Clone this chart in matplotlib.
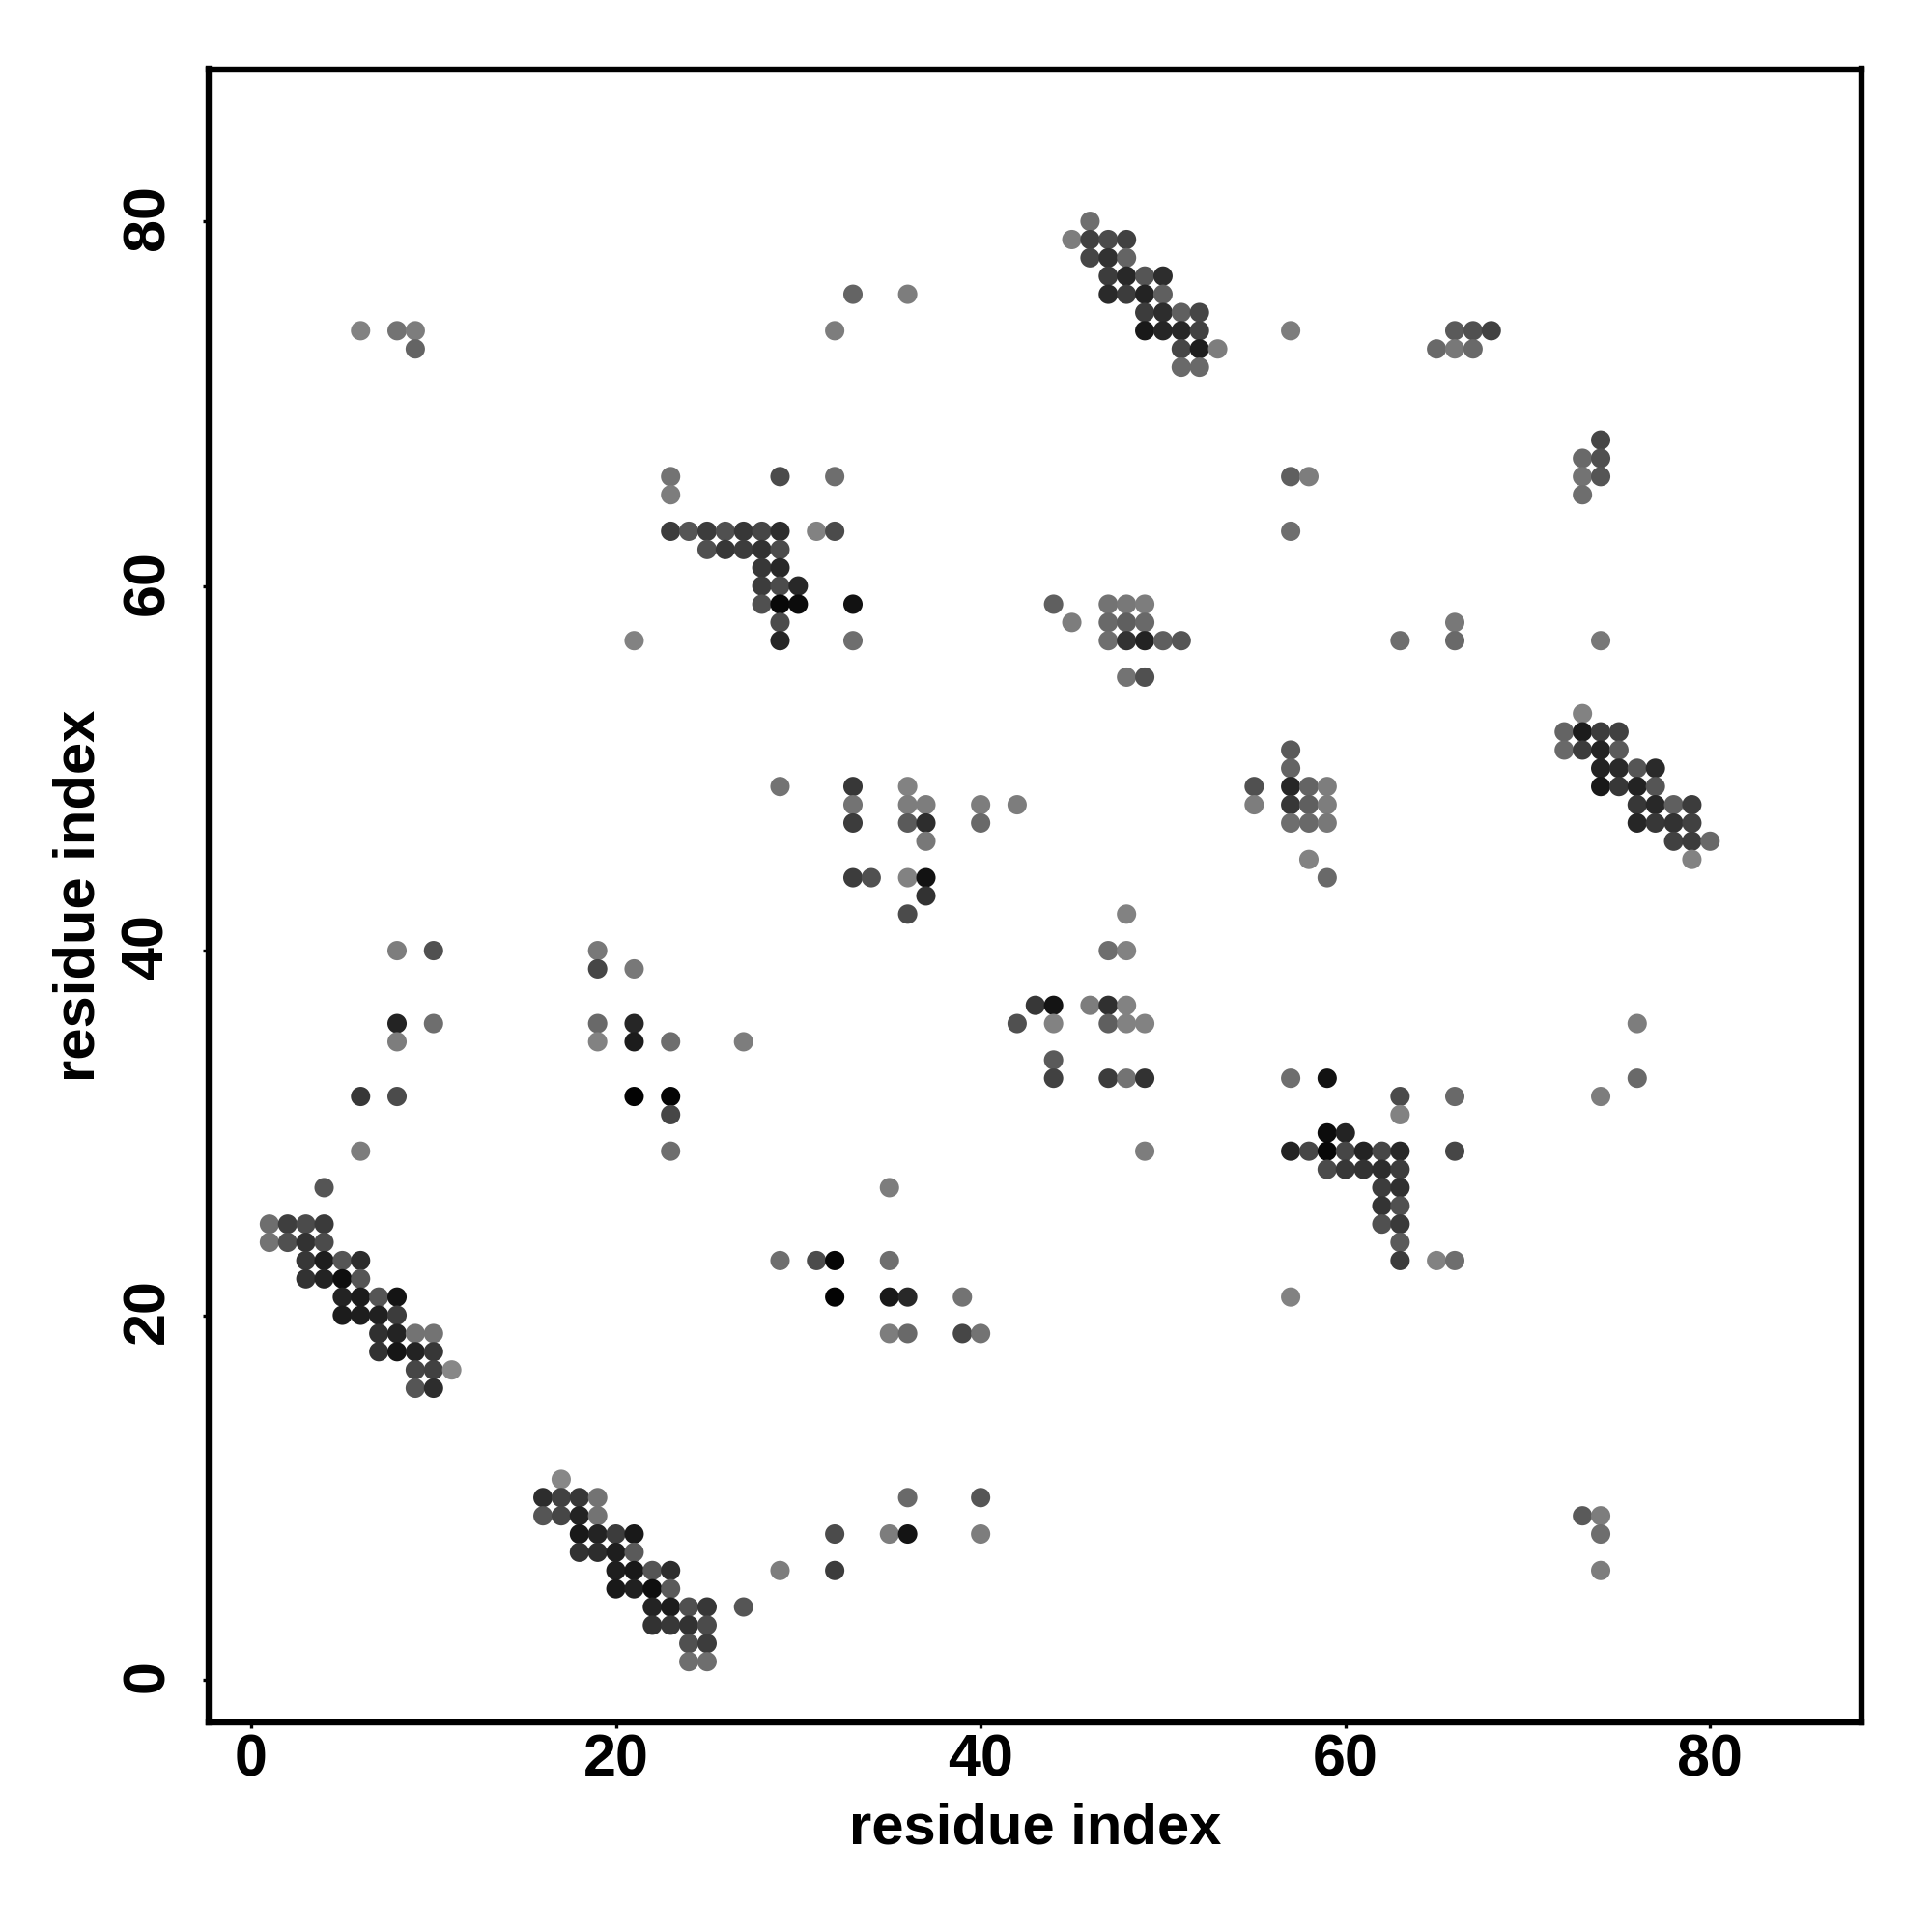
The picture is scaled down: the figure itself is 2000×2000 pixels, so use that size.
import matplotlib
matplotlib.use('Agg')
import matplotlib.pyplot as plt
from matplotlib.transforms import ScaledTranslation
import numpy as np

# contact map, one line per row (top row first): residue i, residue j, grey level 0-255
res_i = [
    46,
    45, 46, 47, 48,
    46, 47, 48,
    47, 48, 49, 50,
    33, 36, 47, 48, 49, 50,
    49, 50, 51, 52,
    6, 8, 9, 32, 49, 50, 51, 52, 57, 66, 67, 68,
    9, 51, 52, 53, 65, 66, 67,
    51, 52,
    74,
    73, 74,
    23, 29, 32, 57, 58, 73, 74,
    23, 73,
    23, 24, 25, 26, 27, 28, 29, 31, 32, 57,
    25, 26, 27, 28, 29,
    28, 29,
    28, 29, 30,
    28, 29, 30, 33, 44, 47, 48, 49,
    29, 45, 47, 48, 49, 66,
    21, 29, 33, 47, 48, 49, 50, 51, 63, 66, 74,
    48, 49,
    73,
    72, 73, 74, 75,
    57, 72, 73, 74, 75,
    57, 74, 75, 76, 77,
    29, 33, 36, 55, 57, 58, 59, 74, 75, 76, 77,
    33, 36, 37, 40, 42, 55, 57, 58, 59, 76, 77, 78, 79,
    33, 36, 37, 40, 57, 58, 59, 76, 77, 78, 79,
    37, 78, 79, 80,
    58, 79,
    33, 34, 36, 37, 59,
    37,
    36, 48,
    8, 10, 19, 47, 48,
    19, 21,
    43, 44, 46, 47, 48,
    8, 10, 19, 21, 42, 44, 47, 48, 49, 76,
    8, 19, 21, 23, 27,
    44,
    44, 47, 48, 49, 57, 59, 76,
    6, 8, 21, 23, 63, 66, 74,
    23, 63,
    59, 60,
    6, 23, 49, 57, 58, 59, 60, 61, 62, 63, 66,
    59, 60, 61, 62, 63,
    4, 35, 62, 63,
    62, 63,
    1, 2, 3, 4, 62, 63,
    1, 2, 3, 4, 63,
    3, 4, 5, 6, 29, 31, 32, 35, 63, 65, 66,
    3, 4, 5, 6,
    5, 6, 7, 8, 32, 35, 36, 39, 57,
    5, 6, 7, 8,
    7, 8, 9, 10, 35, 36, 39, 40,
    7, 8, 9, 10,
    9, 10, 11,
    9, 10,
    17,
    16, 17, 18, 19, 36, 40,
    16, 17, 18, 19, 73, 74,
    18, 19, 20, 21, 32, 35, 36, 40, 74,
    18, 19, 20, 21,
    20, 21, 22, 23, 29, 32, 74,
    20, 21, 22, 23,
    22, 23, 24, 25, 27,
    22, 23, 24, 25,
    24, 25,
    24, 25,
]
res_j = [
    80,
    79, 79, 79, 79,
    78, 78, 78,
    77, 77, 77, 77,
    76, 76, 76, 76, 76, 76,
    75, 75, 75, 75,
    74, 74, 74, 74, 74, 74, 74, 74, 74, 74, 74, 74,
    73, 73, 73, 73, 73, 73, 73,
    72, 72,
    68,
    67, 67,
    66, 66, 66, 66, 66, 66, 66,
    65, 65,
    63, 63, 63, 63, 63, 63, 63, 63, 63, 63,
    62, 62, 62, 62, 62,
    61, 61,
    60, 60, 60,
    59, 59, 59, 59, 59, 59, 59, 59,
    58, 58, 58, 58, 58, 58,
    57, 57, 57, 57, 57, 57, 57, 57, 57, 57, 57,
    55, 55,
    53,
    52, 52, 52, 52,
    51, 51, 51, 51, 51,
    50, 50, 50, 50, 50,
    49, 49, 49, 49, 49, 49, 49, 49, 49, 49, 49,
    48, 48, 48, 48, 48, 48, 48, 48, 48, 48, 48, 48, 48,
    47, 47, 47, 47, 47, 47, 47, 47, 47, 47, 47,
    46, 46, 46, 46,
    45, 45,
    44, 44, 44, 44, 44,
    43,
    42, 42,
    40, 40, 40, 40, 40,
    39, 39,
    37, 37, 37, 37, 37,
    36, 36, 36, 36, 36, 36, 36, 36, 36, 36,
    35, 35, 35, 35, 35,
    34,
    33, 33, 33, 33, 33, 33, 33,
    32, 32, 32, 32, 32, 32, 32,
    31, 31,
    30, 30,
    29, 29, 29, 29, 29, 29, 29, 29, 29, 29, 29,
    28, 28, 28, 28, 28,
    27, 27, 27, 27,
    26, 26,
    25, 25, 25, 25, 25, 25,
    24, 24, 24, 24, 24,
    23, 23, 23, 23, 23, 23, 23, 23, 23, 23, 23,
    22, 22, 22, 22,
    21, 21, 21, 21, 21, 21, 21, 21, 21,
    20, 20, 20, 20,
    19, 19, 19, 19, 19, 19, 19, 19,
    18, 18, 18, 18,
    17, 17, 17,
    16, 16,
    11,
    10, 10, 10, 10, 10, 10,
    9, 9, 9, 9, 9, 9,
    8, 8, 8, 8, 8, 8, 8, 8, 8,
    7, 7, 7, 7,
    6, 6, 6, 6, 6, 6, 6,
    5, 5, 5, 5,
    4, 4, 4, 4, 4,
    3, 3, 3, 3,
    2, 2,
    1, 1,
]
grey = [
    110,
    125, 65, 75, 65,
    70, 50, 100,
    60, 40, 85, 45,
    100, 125, 42, 60, 35, 95,
    60, 45, 95, 70,
    130, 115, 125, 125, 25, 38, 40, 65, 125, 90, 80, 65,
    100, 70, 30, 125, 105, 120, 105,
    105, 105,
    70,
    105, 80,
    115, 75, 110, 95, 125, 115, 85,
    125, 110,
    60, 85, 60, 80, 55, 70, 45, 130, 75, 110,
    80, 55, 60, 50, 75,
    55, 40,
    60, 75, 40,
    80, 8, 12, 18, 95, 115, 120, 125,
    75, 125, 105, 95, 105, 120,
    130, 38, 110, 110, 50, 35, 95, 85, 110, 105, 120,
    115, 80,
    130,
    100, 28, 60, 65,
    90, 105, 60, 35, 90,
    100, 35, 42, 85, 42,
    115, 55, 130, 80, 38, 100, 125, 25, 55, 35, 85,
    115, 125, 125, 125, 125, 125, 55, 95, 125, 55, 40, 95, 60,
    60, 90, 45, 105, 110, 105, 120, 38, 55, 50, 65,
    120, 65, 60, 105,
    130, 130,
    60, 80, 130, 18, 105,
    50,
    75, 130,
    125, 80, 120, 110, 130,
    70, 120,
    55, 20, 125, 48, 130,
    35, 110, 105, 38, 80, 130, 95, 130, 130, 125,
    125, 130, 28, 110, 125,
    90,
    65, 60, 115, 50, 110, 18, 105,
    55, 75, 3, 5, 75, 105, 125,
    70, 130,
    12, 35,
    125, 110, 125, 35, 70, 8, 70, 35, 70, 40, 70,
    75, 55, 50, 45, 60,
    85, 125, 60, 48,
    52, 80,
    110, 62, 75, 58, 80, 58,
    115, 80, 50, 75, 90,
    55, 30, 85, 45, 110, 75, 5, 110, 60, 130, 110,
    50, 35, 15, 85,
    35, 28, 85, 20, 3, 25, 40, 115, 130,
    28, 30, 32, 60,
    48, 35, 115, 115, 125, 105, 70, 115,
    50, 22, 35, 55,
    70, 65, 135,
    85, 45,
    135,
    45, 65, 55, 115, 105, 85,
    85, 70, 35, 115, 90, 125,
    25, 35, 60, 25, 75, 125, 20, 125, 110,
    50, 45, 30, 90,
    30, 25, 85, 45, 125, 60, 125,
    25, 32, 15, 90,
    35, 28, 80, 55, 85,
    50, 55, 50, 75,
    80, 60,
    110, 110,
]
tick_vals = [0, 20, 40, 60, 80]

plt.rcParams['font.family'] = ['Liberation Sans', 'DejaVu Sans']
plt.rcParams['font.weight'] = 'bold'

# pixel box of the frame in the 2000x2000 picture
L, R, T, B = 216, 1927, 71.5, 1783

fig = plt.figure(figsize = (10, 10), dpi = 200)
ax = fig.add_axes([L/2000, 1 - B/2000, (R - L)/2000, (B - T)/2000])

colors = np.array(grey)[:, None].repeat(3, axis = 1)/255.
ax.scatter(res_i, res_j, s = 52, c = colors, linewidths = 0, clip_on = False)

ax.set_xlim(-2.33, 88.3)
ax.set_ylim(-2.33, 88.35)

for sp in ax.spines.values():
    sp.set_linewidth(2.3)

ax.set_xticks(tick_vals)
ax.set_yticks(tick_vals)
ax.tick_params(axis = 'x', length = 2.2, width = 1.2, pad = 1.8, labelsize = 22)
ax.tick_params(axis = 'y', length = 2.2, width = 1.2, pad = 10, labelsize = 22)

# rotated labels sit a little low otherwise
nudge = ScaledTranslation(0, 4/200., fig.dpi_scale_trans)
for lab in ax.get_yticklabels():
    lab.set_rotation(90)
    lab.set_va('center')
    lab.set_transform(lab.get_transform() + nudge)

ax.set_xlabel('residue index', fontsize = 21.5, fontweight = 'bold', va = 'center')
ax.set_ylabel('residue index', fontsize = 21.5, fontweight = 'bold', va = 'center')
ax.xaxis.set_label_coords(0.5, -0.0645)
ax.yaxis.set_label_coords(-0.0785, 0.5)

fig.savefig('out.png', dpi = 200, facecolor = 'white')
